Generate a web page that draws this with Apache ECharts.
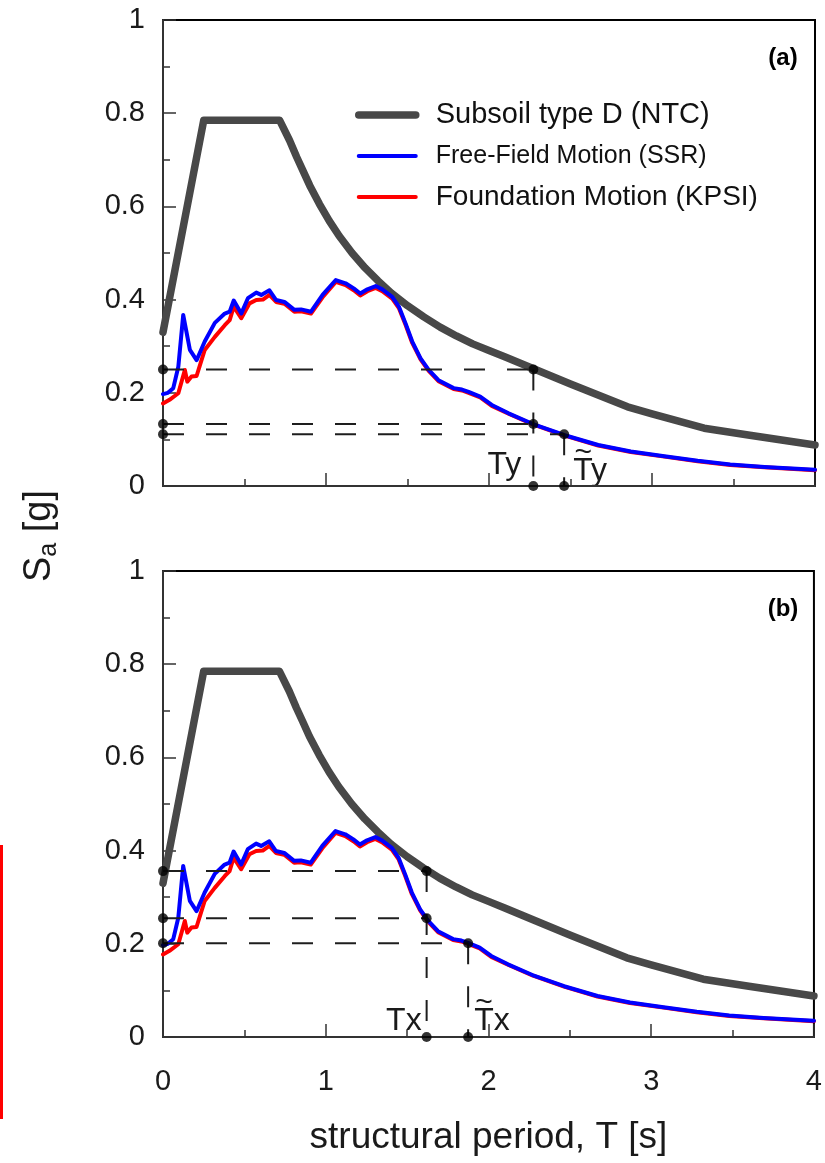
<!DOCTYPE html>
<html>
<head>
<meta charset="utf-8">
<script src="https://cdn.jsdelivr.net/npm/echarts@6/dist/echarts.min.js"></script>
<style>
  html, body { margin: 0; padding: 0; background: #fff; }
  #chart { width: 825px; height: 1163px; }
</style>
</head>
<body>
<div id="chart"></div>
<script>
(() => {

    const FONT = "'Liberation Sans', Arial, Helvetica, sans-serif";
    const NAMES = ["Subsoil type D (NTC)", "Free-Field Motion (SSR)", "Foundation Motion (KPSI)"];

    // code spectrum, subsoil D
    const ntcT  = [0, 0.25, 0.715, 0.776, 0.82, 0.857, 0.9, 0.96, 1.02, 1.08, 1.16, 1.24, 1.32, 1.4, 1.5, 1.6, 1.7, 1.8, 1.9, 2.0, 2.1, 2.27, 2.5, 2.85, 3.0, 3.32, 3.6, 4.0];
    const ntcSa = [0.33, 0.785, 0.785, 0.742, 0.706, 0.678, 0.645, 0.605, 0.569, 0.537, 0.5, 0.468, 0.44, 0.414, 0.387, 0.363, 0.341, 0.322, 0.305, 0.291, 0.277, 0.252, 0.219, 0.17, 0.155, 0.124, 0.109, 0.088];

    // free-field motion (SSR)
    const ffT  = [0, 0.03, 0.063, 0.094, 0.124, 0.165, 0.206, 0.256, 0.318, 0.379, 0.409, 0.434, 0.48, 0.521, 0.572, 0.603, 0.653, 0.694, 0.745, 0.806, 0.847, 0.908, 0.979, 1.06, 1.12, 1.17, 1.21, 1.254, 1.305, 1.345, 1.406, 1.447, 1.488, 1.529, 1.58, 1.63, 1.69, 1.783, 1.834, 1.875, 1.946, 2.017, 2.12, 2.27, 2.465, 2.67, 2.87, 3.076, 3.28, 3.48, 3.69, 4.0];
    const ffSa = [0.197, 0.2, 0.21, 0.256, 0.367, 0.292, 0.27, 0.31, 0.35, 0.37, 0.374, 0.398, 0.37, 0.403, 0.415, 0.41, 0.42, 0.399, 0.395, 0.378, 0.379, 0.374, 0.41, 0.442, 0.435, 0.424, 0.413, 0.422, 0.429, 0.422, 0.406, 0.385, 0.349, 0.31, 0.274, 0.249, 0.227, 0.21, 0.207, 0.202, 0.192, 0.174, 0.156, 0.133, 0.109, 0.088, 0.074, 0.064, 0.054, 0.046, 0.041, 0.035];

    // foundation motion (KPSI)
    const fmT  = [0, 0.04, 0.094, 0.134, 0.149, 0.175, 0.206, 0.256, 0.318, 0.379, 0.409, 0.434, 0.48, 0.531, 0.572, 0.613, 0.653, 0.694, 0.745, 0.806, 0.847, 0.908, 0.979, 1.06, 1.12, 1.17, 1.21, 1.254, 1.305, 1.345, 1.406, 1.447, 1.488, 1.529, 1.58, 1.63, 1.69, 1.783, 1.834, 1.875, 1.946, 2.017, 2.12, 2.27, 2.465, 2.67, 2.87, 3.076, 3.28, 3.48, 3.69, 4.0];
    const fmSa = [0.177, 0.185, 0.199, 0.249, 0.224, 0.235, 0.236, 0.292, 0.32, 0.345, 0.356, 0.385, 0.36, 0.392, 0.399, 0.40, 0.41, 0.395, 0.391, 0.374, 0.375, 0.37, 0.405, 0.438, 0.431, 0.42, 0.409, 0.418, 0.425, 0.418, 0.402, 0.382, 0.346, 0.307, 0.272, 0.247, 0.225, 0.208, 0.205, 0.2, 0.19, 0.172, 0.155, 0.132, 0.108, 0.087, 0.073, 0.063, 0.053, 0.045, 0.04, 0.034];

    // read-off levels and periods, panel (a) = y direction, (b) = x direction
    const levelsA  = [0.25, 0.133, 0.111];
    const periodsA = [2.272, 2.461];
    const levelsB  = [0.356, 0.255, 0.201];
    const periodsB = [1.62, 1.875];
    const periodLabels = [["T", "y"], ["T", "x"]];

    const GRIDS = [{top: 20}, {top: 571}];

    const chart = echarts.init(document.getElementById("chart"));

    function zip(xs, ys) {
        return xs.map((x, i) => [x, ys[i]]);
    }

    function axes(i) {
        let last = i === GRIDS.length - 1;
        let axisLine = {lineStyle: {color: "#333", width: 2}};
        let tick = {inside: true, length: 13, lineStyle: {color: "#333", width: 1.5}};
        let minor = {show: true, splitNumber: 2, length: 7, lineStyle: {color: "#333", width: 1.5}};
        let x = {
            type: "value", gridIndex: i, min: 0, max: 4, interval: 1,
            axisLine: axisLine, axisTick: tick, minorTick: minor,
            splitLine: {show: false}, minorSplitLine: {show: false},
            axisLabel: {show: last, margin: 30, fontSize: 29, fontFamily: FONT, color: "#1a1a1a"}
        };
        if (last) {
            x.name = "structural period, T [s]";
            x.nameLocation = "middle";
            x.nameGap = 82;
            x.nameTextStyle = {fontSize: 37, fontFamily: FONT, color: "#1a1a1a"};
        }
        let y = {
            type: "value", gridIndex: i, min: 0, max: 1, interval: 0.2,
            axisLine: axisLine, axisTick: tick, minorTick: minor,
            splitLine: {show: false}, minorSplitLine: {show: false},
            axisLabel: {margin: 18, fontSize: 29, fontFamily: FONT, color: "#1a1a1a"}
        };
        return [x, y];
    }

    function curves(i) {
        let spec = [
            [NAMES[0], ntcT, ntcSa, "#484848", 7.5],
            [NAMES[2], fmT, fmSa, "#ff0000", 4],
            [NAMES[1], ffT, ffSa, "#0000ff", 4]
        ];
        return spec.map(([name, xs, ys, color, width]) => ({
            name: name, type: "line", xAxisIndex: i, yAxisIndex: i,
            data: zip(xs, ys), symbol: "none", silent: true,
            itemStyle: {color: color},
            lineStyle: {color: color, width: width, cap: "round", join: "round"}
        }));
    }

    function guides(i, levels, periods) {
        let dash = {color: "#1e1e1e", width: 2, type: [21, 22]};
        let segs = [
            [[0, levels[0]], [periods[0], levels[0]]],
            [[0, levels[1]], [periods[0], levels[1]]],
            [[0, levels[2]], [periods[1], levels[2]]],
            [[periods[0], levels[0]], [periods[0], 0]],
            [[periods[1], levels[2]], [periods[1], 0]]
        ];
        let out = segs.map(s => ({
            type: "line", xAxisIndex: i, yAxisIndex: i, data: s,
            symbol: "none", silent: true, lineStyle: dash, z: 3
        }));
        let dots = levels.map(l => [0, l]).concat([
            [periods[0], levels[0]], [periods[0], levels[1]], [periods[1], levels[2]],
            [periods[0], 0], [periods[1], 0]
        ]);
        out.push({
            type: "scatter", xAxisIndex: i, yAxisIndex: i, data: dots, clip: false,
            symbol: "circle", symbolSize: 10, itemStyle: {color: "#000"}, silent: true, z: 4
        });
        return out;
    }

    let xAxes = [], yAxes = [], series = [];
    GRIDS.forEach((g, i) => {
        let [x, y] = axes(i);
        xAxes.push(x);
        yAxes.push(y);
        series = series.concat(curves(i));
    });
    series = series.concat(guides(0, levelsA, periodsA), guides(1, levelsB, periodsB));

    chart.setOption({
        animation: false,
        grid: GRIDS.map(g => ({
            left: 163, top: g.top, width: 652, height: 466,
            show: true, borderColor: "#000", borderWidth: 2, backgroundColor: "transparent"
        })),
        xAxis: xAxes,
        yAxis: yAxes,
        legend: {
            left: 355, top: 100, orient: "vertical", padding: 0,
            itemWidth: 57, itemHeight: 14, itemGap: 11, selectedMode: false,
            data: [
                {name: NAMES[0], textStyle: {fontSize: 29}},
                {name: NAMES[1], textStyle: {fontSize: 25}},
                {name: NAMES[2], textStyle: {fontSize: 28}}
            ],
            textStyle: {fontFamily: FONT, color: "#111", lineHeight: 30, padding: [0, 0, 0, 15]},
            itemStyle: {color: "rgba(0,0,0,0)", borderWidth: 0, opacity: 0},
            lineStyle: {width: "inherit"}
        },
        series: series
    });

    // text annotations anchored to the read-off periods
    let graphic = [];
    let txt = (x, y, text, size, extra) => ({
        type: "text", x: x, y: y, silent: true,
        style: Object.assign({text: text, fontSize: size, fontFamily: FONT, fill: "#1a1a1a"}, extra || {})
    });

    [[periodsA, {l: -12, r: 9, by: -10, bt: -4}], [periodsB, {l: -5, r: 6, by: -5, bt: -5}]].forEach(([per, off], i) => {
        let p0 = chart.convertToPixel({gridIndex: i}, [per[0], 0]);
        let p1 = chart.convertToPixel({gridIndex: i}, [per[1], 0]);
        let lab = periodLabels[i];
        let fs = 32;
        graphic.push(txt(p0[0] + off.l, p0[1] + off.by + 5, lab[0] + lab[1], fs, {align: "right", verticalAlign: "bottom"}));
        graphic.push(txt(p1[0] + off.r, p1[1] + off.bt + 5, lab[0] + lab[1], fs, {align: "left", verticalAlign: "bottom"}));
        // tilde over the second T
        graphic.push(txt(p1[0] + off.r + 10, p1[1] + off.bt - 29, "~", 30, {align: "center", verticalAlign: "middle"}));
    });

    GRIDS.forEach((g, i) => {
        graphic.push(txt(783, g.top + 38, i === 0 ? "(a)" : "(b)", 24,
            {align: "center", verticalAlign: "middle", fontWeight: "bold", fill: "#000"}));
    });

    graphic.push({
        type: "text", x: 40, y: 536, rotation: Math.PI / 2, silent: true,
        style: {
            text: "{s|S}{sub|a}{s| [g]}", align: "center", verticalAlign: "middle",
            fill: "#1a1a1a", fontFamily: FONT,
            rich: {
                s: {fontSize: 38, fontFamily: FONT, lineHeight: 44, fill: "#1a1a1a"},
                sub: {fontSize: 25, fontFamily: FONT, lineHeight: 25, verticalAlign: "bottom", fill: "#1a1a1a"}
            }
        }
    });

    graphic.push({type: "rect", silent: true, shape: {x: 0, y: 845, width: 3, height: 274}, style: {fill: "#ff0000"}});

    chart.setOption({graphic: graphic});
})();
</script>
</body>
</html>
